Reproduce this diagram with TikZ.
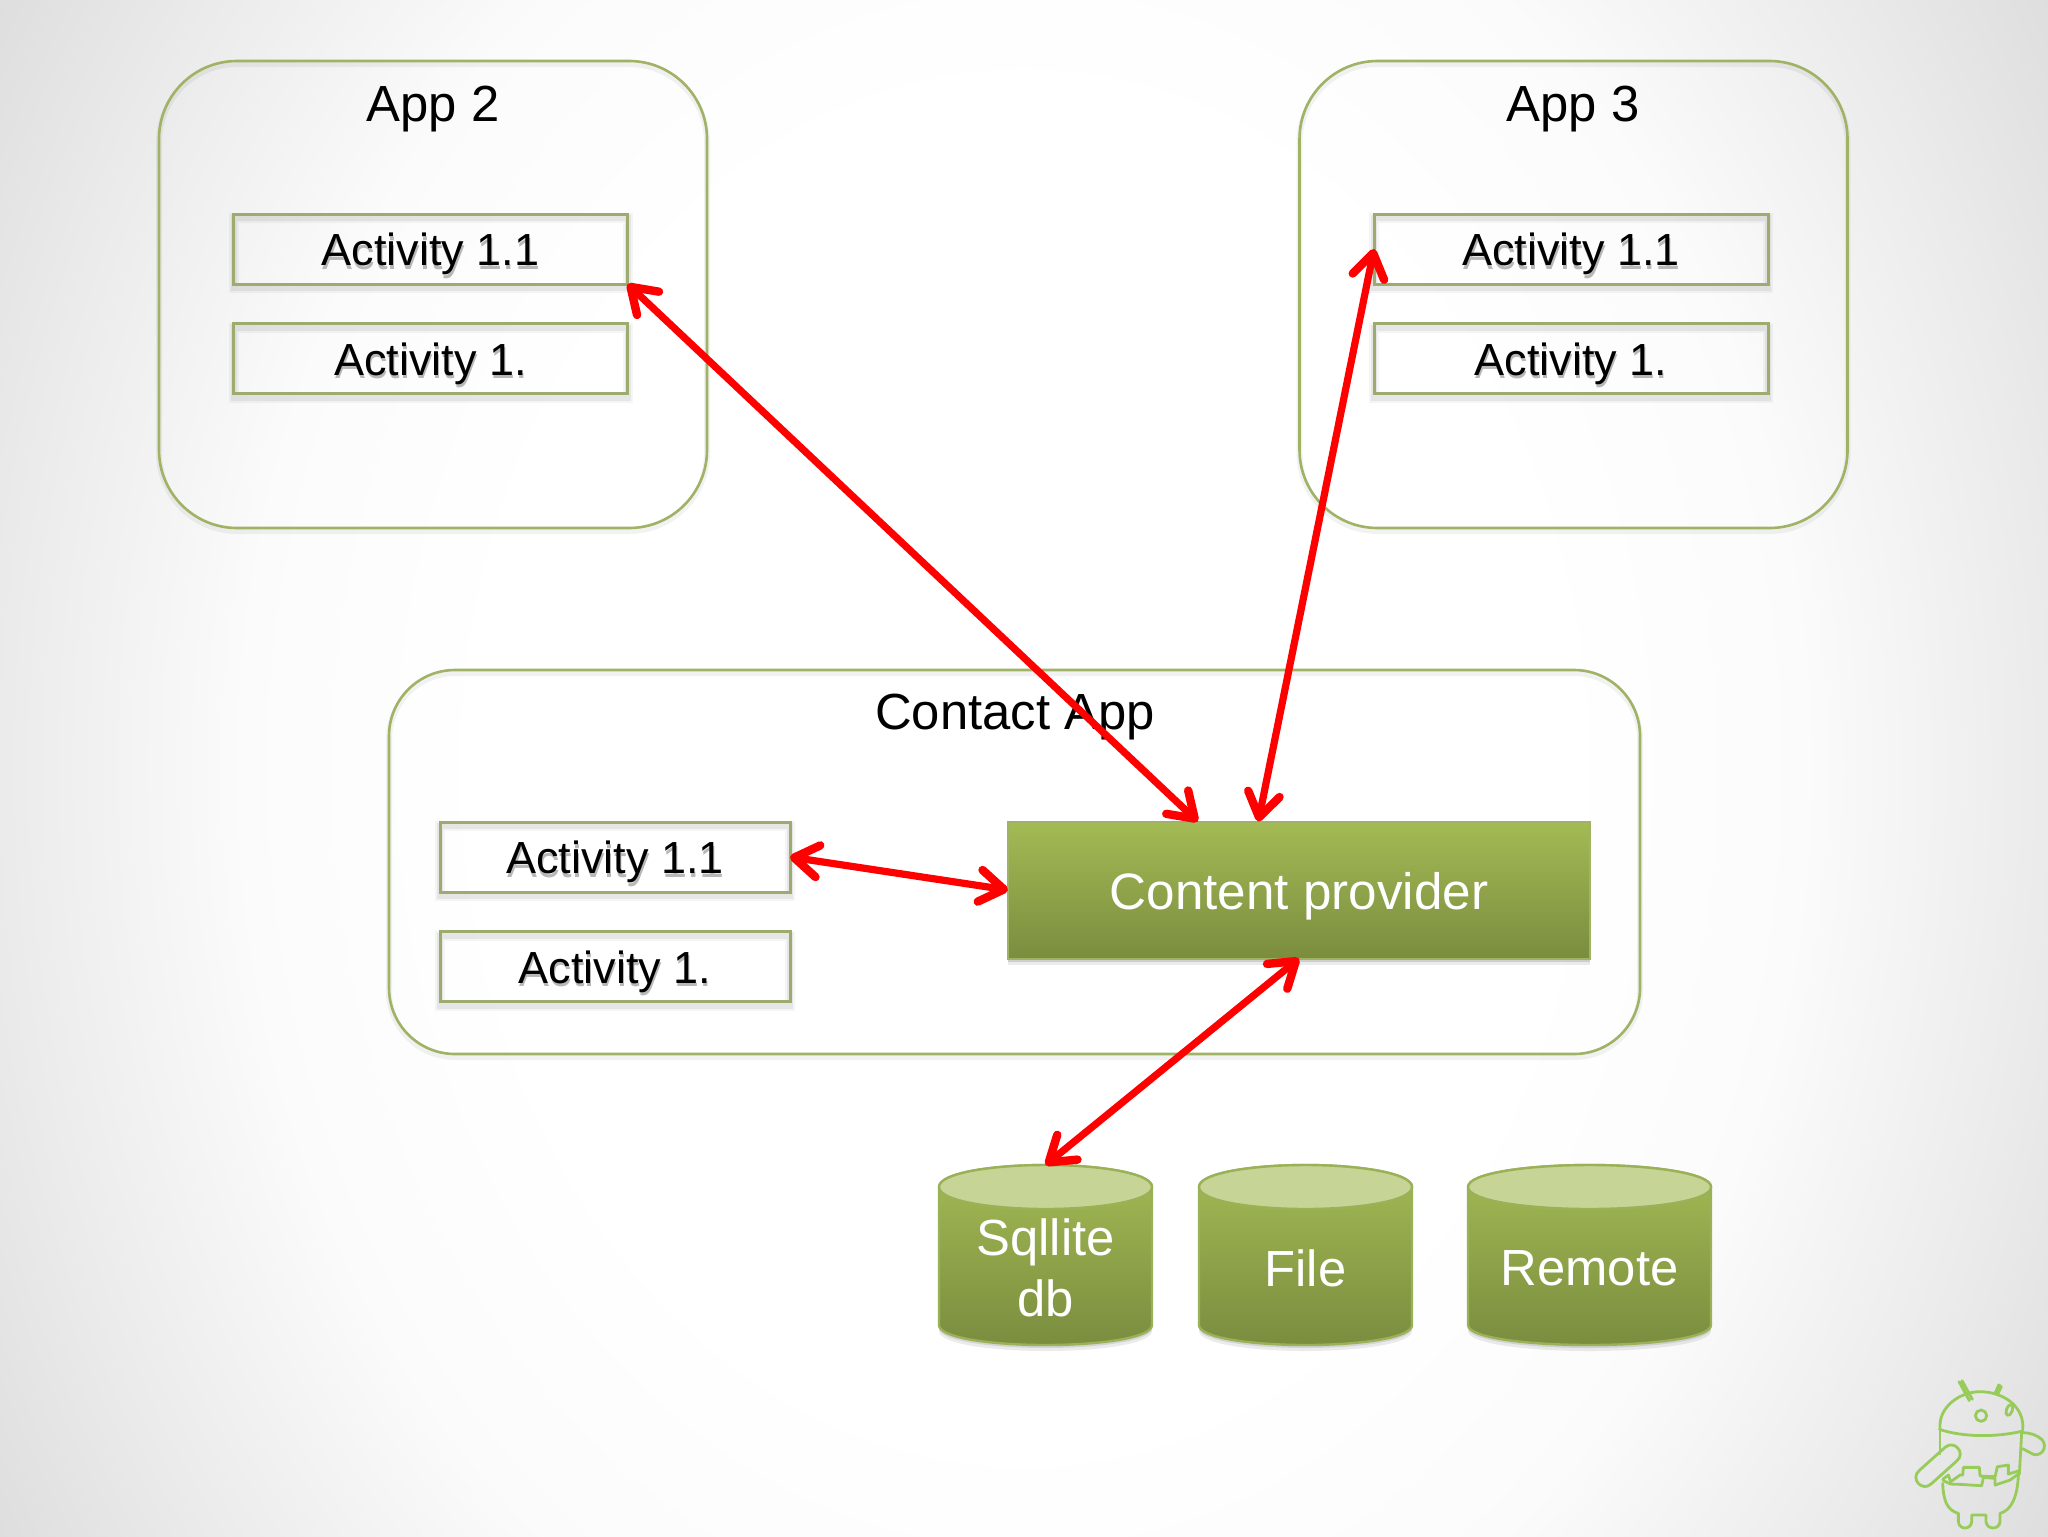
\documentclass[tikz,border=0pt]{standalone}
\usepackage{fontspec}
\setmainfont{Liberation Sans}
\usetikzlibrary{arrows.meta,calc}
\definecolor{panelc}{HTML}{A0B365}
\definecolor{boxc}{HTML}{9DAB6E}
\definecolor{olivetop}{HTML}{A4BA54}
\definecolor{olivebot}{HTML}{7A8D3F}
\definecolor{cyltop}{HTML}{C6D596}
\definecolor{cylline}{HTML}{9AB157}
\definecolor{droid}{HTML}{98CC5A}
\pgfdeclareradialshading{vign}{\pgfpoint{0bp}{0bp}}{color(0bp)=(white);color(13bp)=(white);color(19bp)=(black!1.5);color(25bp)=(black!8);color(31bp)=(black!15);color(36bp)=(black!18)}
\newcommand\shtext[1]{\leavevmode\rlap{\raisebox{-1.8pt}{\kern.6pt\textcolor{black!28}{#1}}}#1}
\newcommand\cylbody[2]{%
  \pgfmathsetmacro\xa{#1-#2/2}\pgfmathsetmacro\xb{#1+#2/2}
  \path[fill=black,fill opacity=.08,transform canvas={yshift=-3pt}]
    (\xa,1187) -- (\xa,1325) .. controls (\xa,1338) and (#1-#2/4,1345) .. (#1,1345)
    .. controls (#1+#2/4,1345) and (\xb,1338) .. (\xb,1325) -- (\xb,1187) -- cycle;
  \path[fill=black,fill opacity=.10,transform canvas={yshift=-1.5pt}]
    (\xa,1187) -- (\xa,1325) .. controls (\xa,1338) and (#1-#2/4,1345) .. (#1,1345)
    .. controls (#1+#2/4,1345) and (\xb,1338) .. (\xb,1325) -- (\xb,1187) -- cycle;
  \path[draw=cylline,line width=1.2pt,top color=olivetop,bottom color=olivebot]
    (\xa,1187) -- (\xa,1325) .. controls (\xa,1338) and (#1-#2/4,1345) .. (#1,1345)
    .. controls (#1+#2/4,1345) and (\xb,1338) .. (\xb,1325) -- (\xb,1187)
    .. controls (\xb,1173) and (#1+#2/4,1165) .. (#1,1165)
    .. controls (#1-#2/4,1165) and (\xa,1173) .. (\xa,1187) -- cycle;
  \path[draw=cylline,line width=1.2pt,fill=cyltop]
    (\xa,1187) .. controls (\xa,1173) and (#1-#2/4,1165) .. (#1,1165)
    .. controls (#1+#2/4,1165) and (\xb,1173) .. (\xb,1187)
    .. controls (\xb,1201) and (#1+#2/4,1209) .. (#1,1209)
    .. controls (#1-#2/4,1209) and (\xa,1201) .. (\xa,1187) -- cycle;
}
\tikzset{
  x=0.5pt,y=-0.5pt,
  panel/.style={draw=panelc,line width=1.3pt,rounded corners=#1,outer sep=0pt,
    preaction={draw=black,draw opacity=.05,line width=3pt,transform canvas={yshift=-1.5pt}}},
  actbox/.style={draw=boxc,line width=1.5pt,outer sep=0pt,minimum height=35pt,font=\fontsize{22.5}{26}\selectfont,text=black,text height=16.6pt,text depth=0pt,
    preaction={draw=black,draw opacity=.04,line width=5pt,transform canvas={yshift=-2pt}},
    preaction={draw=black,draw opacity=.06,line width=3pt,transform canvas={yshift=-2pt}}},
  title/.style={font=\fontsize{25.4}{30}\selectfont,text=black,inner sep=0pt},
  cpbox/.style={draw=panelc,line width=1pt,outer sep=0pt,top color=olivetop,bottom color=olivebot,
    text=white,font=\fontsize{25.6}{30}\selectfont,text height=19pt,text depth=0pt,
    preaction={fill=black,fill opacity=.08,transform canvas={yshift=-3pt}},
    preaction={fill=black,fill opacity=.12,transform canvas={yshift=-1.5pt}}},
  cylnode/.style={minimum height=103pt,outer sep=0pt,inner sep=0pt,align=center,text=white,font=\fontsize{25.4}{30.7}\selectfont},
  link/.style={draw=red,line width=3.6pt,line cap=round,
    {Straight Barb[length=12pt,width=16pt,round,line width=4.2pt]}-{Straight Barb[length=12pt,width=16pt,round,line width=4.2pt]}},
  droidline/.style={draw=droid,line width=1.4pt,line cap=round,line join=round},
}
\begin{document}
\begin{tikzpicture}
\useasboundingbox (0,0) rectangle (2048,1536);
\begin{scope}
  \clip (0,0) rectangle (2048,1536);
  \shade[shading=vign] (0,-500) rectangle (2048,2036);
\end{scope}

% panels
\node[panel=39pt,minimum width=274pt,minimum height=233.5pt] (app2) at (433,294.5) {};
\node[panel=39pt,minimum width=274pt,minimum height=233.5pt] (app3) at (1573.5,294.5) {};
\node[panel=33pt,minimum width=625.5pt,minimum height=192pt] (contact) at (1014.5,862) {};
\node[title] (app2t) at (433,109) {App 2};
\node[title] (app3t) at (1573,109) {App 3};
\node[title] (contactt) at (1015,717) {Contact App};

% activities
\node[actbox,minimum width=197pt] (a21) at (430.5,249) {\shtext{Activity 1.1}};
\node[actbox,minimum width=197pt] (a22) at (430.5,358.5) {\shtext{Activity 1.}};
\node[actbox,minimum width=197pt] (a31) at (1571,249) {\shtext{Activity 1.1}};
\node[actbox,minimum width=197pt] (a32) at (1571,358.5) {\shtext{Activity 1.}};
\node[actbox,minimum width=175pt] (c1) at (615,857) {\shtext{Activity 1.1}};
\node[actbox,minimum width=175pt] (c2) at (615,966.5) {\shtext{Activity 1.}};

% content provider
\node[cpbox,minimum width=291pt,minimum height=68.5pt] (cp) at (1299,890) {Content provider};

% cylinders
\cylbody{1045.5}{213}
\cylbody{1305.5}{213}
\cylbody{1589.5}{243}
\node[cylnode,minimum width=106pt] (sql) at (1045.5,1268) {Sqllite\\db};
\node[cylnode,minimum width=106pt] (file) at (1305.5,1268) {File};
\node[cylnode,minimum width=121pt] (remote) at (1589.5,1268) {Remote};

% connectors
\draw[link] (a21.south east) -- ($(cp.north west)!.326!(cp.north east)$);
\draw[link] (a31.west) -- ($(cp.north west)!.43!(cp.north east)$);
\draw[link] (c1.east) -- (cp.west);
\draw[link] (cp.south) -- (sql.north);

% android mark
\begin{scope}[shift={(1880,1350)},x=0.1667pt,y=-0.1667pt]
  \draw[droidline] (237,95) -- (268,152) (246,92) -- (277,148);
  \draw[droidline] (345,130) -- (356,105) -- (364,110) -- (352,134);
  \draw[droidline] (180,235) .. controls (175,170) and (240,125) .. (300,125) .. controls (370,125) and (435,170) .. (428,240);
  \draw[droidline] (178,238) .. controls (250,262) and (350,262) .. (428,243);
  \draw[droidline] (303,197) circle [radius=17];
  \draw[droidline,rotate around={-20:(388,180)}] (388,180) ellipse [x radius=9,y radius=17];
  \draw[droidline] (180,240) -- (180,312);
  \draw[droidline] (425,245) -- (418,372);
  \draw[droidline] (188,400) .. controls (190,450) and (200,480) .. (235,490) -- (235,515) .. controls (237,540) and (273,540) .. (275,515) -- (275,495) -- (318,495) -- (318,515) .. controls (320,540) and (358,540) .. (360,515) -- (360,490) .. controls (395,480) and (412,440) .. (415,375);
  \draw[droidline] (430,248) .. controls (450,248) and (470,255) .. (485,268) .. controls (505,290) and (485,320) .. (460,313) -- (428,296);
  \draw[droidline] (195,292) -- (117,362) .. controls (90,386) and (126,426) .. (153,402) -- (231,332) .. controls (258,308) and (222,268) .. (195,292) -- cycle;
  \draw[droidline] (188,388) -- (205,375) -- (212,395) -- (240,375) -- (248,375) -- (250,352) -- (298,352) -- (300,378) -- (345,380) -- (352,350) -- (385,345) -- (385,372) -- (418,362);
  \draw[droidline] (190,392) -- (212,402) -- (240,403) -- (305,407) -- (310,382) -- (345,385) -- (345,405) -- (390,390) -- (418,370);
\end{scope}
\end{tikzpicture}
\end{document}
